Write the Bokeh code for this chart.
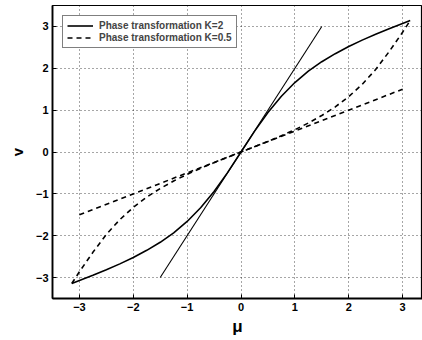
from bokeh.plotting import figure
from bokeh.models import Range1d, Legend, LegendItem
from bokeh.embed import file_html
from bokeh.resources import INLINE

# Data
mu = [-3.1416, -3.0, -2.75, -2.5, -2.25, -2.0, -1.75, -1.5, -1.25, -1.0, -0.75, -0.5, -0.25,
      0.0, 0.25, 0.5, 0.75, 1.0, 1.25, 1.5, 1.75, 2.0, 2.25, 2.5, 2.75, 3.0, 3.1416]
v_k2 = [-3.1416, -3.071, -2.947, -2.812, -2.673, -2.520, -2.349, -2.157, -1.930, -1.660, -1.333, -0.945, -0.493,
        0.0, 0.493, 0.945, 1.333, 1.660, 1.930, 2.157, 2.349, 2.520, 2.673, 2.812, 2.947, 3.071, 3.1416]
v_k05 = [-3.1416, -2.860, -2.397, -1.969, -1.616, -1.323, -1.078, -0.872, -0.692, -0.533, -0.388, -0.254, -0.126,
         0.0, 0.126, 0.254, 0.388, 0.533, 0.692, 0.872, 1.078, 1.323, 1.616, 1.969, 2.397, 2.860, 3.1416]
lin2_x = [-1.5, 1.5]
lin2_y = [-3.0, 3.0]
lin05_x = [-3.0, 3.0]
lin05_y = [-1.5, 1.5]
xticks = [-3, -2, -1, 0, 1, 2, 3]
yticks = [-3, -2, -1, 0, 1, 2, 3]
x_label = "μ"
y_label = "v"

FONT = "Liberation Sans"

p = figure(width=422, height=340, output_backend="svg", toolbar_location=None,
           x_range=Range1d(-3.5, 3.37), y_range=Range1d(-3.5, 3.5),
           min_border_left=52, min_border_right=0, min_border_top=5, min_border_bottom=42)

p.background_fill_color = "white"
p.border_fill_color = "white"
p.outline_line_color = "black"
p.outline_line_width = 1.2

for ax in (p.xaxis, p.yaxis):
    ax.major_label_text_font = FONT
    ax.major_label_text_font_style = "bold"
    ax.major_label_text_font_size = "11px"
    ax.major_label_text_color = "black"
    ax.major_label_standoff = 4
    ax.axis_line_color = "black"
    ax.axis_line_width = 1.8
    ax.major_tick_in = 4
    ax.major_tick_out = 0
    ax.minor_tick_line_color = None
    ax.major_tick_line_color = "black"
    ax.axis_label_text_font = FONT
    ax.axis_label_text_font_style = "bold"
    ax.axis_label_text_color = "black"

p.xaxis.ticker = xticks
p.yaxis.ticker = yticks
p.xaxis.axis_label = x_label
p.xaxis.axis_label_text_font_size = "17px"
p.xaxis.axis_label_standoff = 3
p.yaxis.axis_label = y_label
p.yaxis.axis_label_text_font_size = "15px"
p.yaxis.axis_label_standoff = 7

for g in (p.xgrid, p.ygrid):
    g.grid_line_color = "black"
    g.grid_line_dash = "1 3"
    g.grid_line_alpha = 0.7
    g.grid_line_width = 1

r1 = p.line(mu, v_k2, line_color="black", line_width=1.6)
r2 = p.line(mu, v_k05, line_color="black", line_width=1.6, line_dash="5 4")
p.line(lin2_x, lin2_y, line_color="black", line_width=1.1)
p.line(lin05_x, lin05_y, line_color="black", line_width=1.6, line_dash="5 4")

legend = Legend(items=[LegendItem(label="Phase transformation K=2", renderers=[r1]),
                       LegendItem(label="Phase transformation K=0.5", renderers=[r2])],
                location="top_left")
legend.label_text_font = FONT
legend.label_text_font_style = "bold"
legend.label_text_font_size = "10px"
legend.label_height = 11
legend.glyph_height = 11
legend.glyph_width = 26
legend.label_standoff = 6
legend.spacing = 1
legend.padding = 4
legend.margin = 10
legend.border_line_color = "black"
legend.border_line_width = 1.2
legend.background_fill_color = "white"
legend.background_fill_alpha = 1
p.add_layout(legend)

open("out.html", "w").write(file_html(p, INLINE))
